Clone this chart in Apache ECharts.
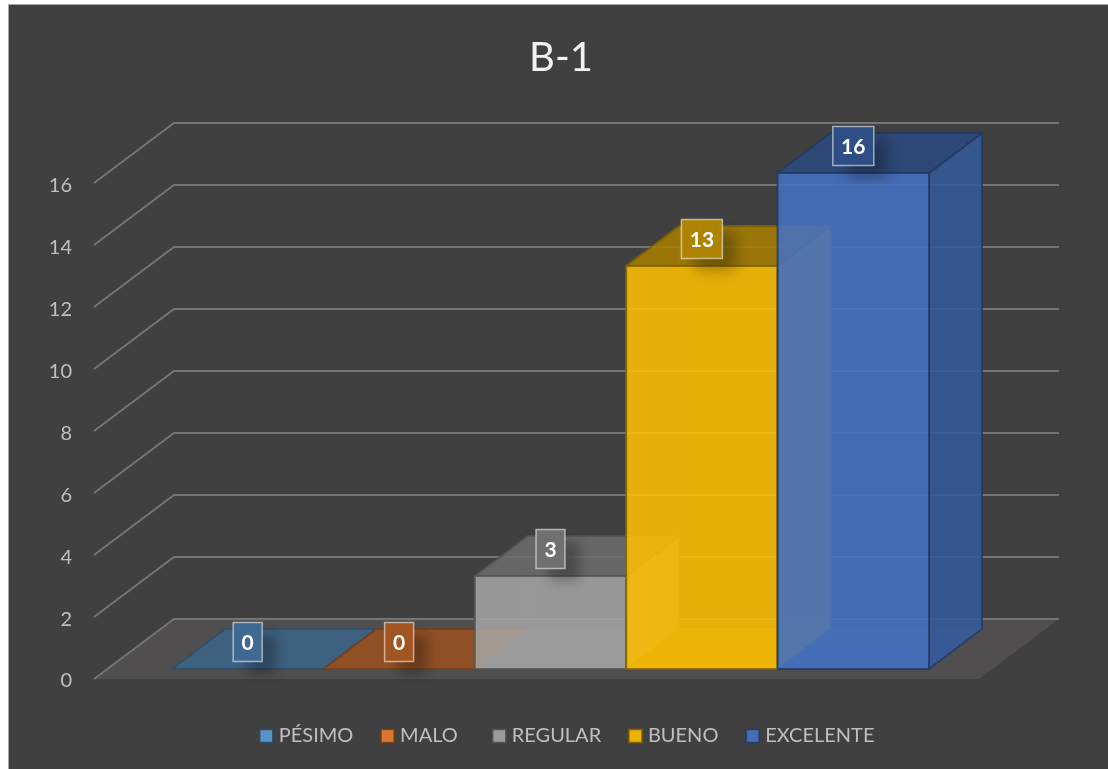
<!DOCTYPE html>
<html>
<head>
<meta charset="utf-8">
<style>html,body{margin:0;padding:0;background:#fff}#c{width:1108px;height:769px}</style>
<script src="https://cdn.jsdelivr.net/npm/echarts@6/dist/echarts.min.js"></script>
</head>
<body>
<div id="c"></div>
<script>
const titleText = 'B-1';
const categories = ['PÉSIMO', 'MALO', 'REGULAR', 'BUENO', 'EXCELENTE'];
const values = [0, 0, 3, 13, 16];
const yTicks = [0, 2, 4, 6, 8, 10, 12, 14, 16];
const colors = ['#5B9BD5', '#ED7D31', '#A5A5A5', '#FFC000', '#4472C4'];

const FONT = 'Lato';
const WALL = [80, -60];
const DEPTH = [53, -40];

function rgba(hex, shade, a) {
  const n = parseInt(hex.slice(1), 16);
  const r = Math.round((n >> 16 & 255) * shade), g = Math.round((n >> 8 & 255) * shade), b = Math.round((n & 255) * shade);
  return 'rgba(' + r + ',' + g + ',' + b + ',' + a + ')';
}
function shift(p, d) { return [p[0] + d[0], p[1] + d[1]]; }
function poly(points, fill, stroke) {
  return { type: 'polygon', shape: { points: points }, style: { fill: fill, stroke: stroke, lineWidth: 2, lineJoin: 'round' } };
}

function renderWall(params, api) {
  const v = api.value(1);
  const a = api.coord([0, v]), b = api.coord([1, v]);
  const c = shift(a, WALL), d = shift(b, WALL);
  const children = [];
  if (v === 0) children.push({ type: 'polygon', shape: { points: [a, c, d, b] }, style: { fill: '#504e4e' } });
  children.push({ type: 'polyline', shape: { points: [a, c, d] }, style: { fill: 'none', stroke: '#757575', lineWidth: 2 } });
  return { type: 'group', children: children };
}

function makeBar(color) {
  return function (params, api) {
    const i = api.value(0), v = api.value(1);
    const w = api.size([1, 0])[0];
    const base = api.coord([i, 0]), top = api.coord([i, v]);
    const l = base[0] - w / 2, r = base[0] + w / 2;
    const fbl = [l, base[1]], fbr = [r, base[1]], ftl = [l, top[1]], ftr = [r, top[1]];
    const bbl = shift(fbl, DEPTH), bbr = shift(fbr, DEPTH), btl = shift(ftl, DEPTH), btr = shift(ftr, DEPTH);
    const edge = rgba(color, 0.5, 0.8), faint = rgba(color, 1, 0.12);
    const children = [];
    if (v > 0) {
      children.push(poly([bbl, bbr, btr, btl], faint, rgba(color, 1, 0.06)));
      children.push(poly([fbl, fbr, bbr, bbl], rgba(color, 1, 0.3), rgba(color, 1, 0.06)));
      children.push(poly([fbl, bbl, btl, ftl], rgba(color, 1, 0.1), rgba(color, 1, 0.06)));
      children.push(poly([fbr, bbr, btr, ftr], rgba(color, 0.78, 0.85), edge));
    }
    children.push(poly([ftl, ftr, btr, btl], rgba(color, 0.65, 0.85), edge));
    if (v > 0) children.push(poly([fbl, fbr, ftr, ftl], rgba(color, 1, 0.85), edge));

    const text = String(v);
    const bw = text.length > 1 ? 41 : 29, bh = 39;
    const bx = (l + r) / 2 - bw / 2, by = top[1] - 27 - bh / 2;
    children.push({ type: 'rect', shape: { x: bx, y: by, width: bw, height: bh },
      style: { fill: rgba(color, 0.68, 1), shadowBlur: 12, shadowOffsetX: 14, shadowOffsetY: 12, shadowColor: 'rgba(0,0,0,0.27)' } });
    children.push({ type: 'rect', shape: { x: bx, y: by, width: bw, height: bh },
      style: { fill: 'none', stroke: 'rgba(255,255,255,0.55)', lineWidth: 1.5 } });
    children.push({ type: 'text', x: (l + r) / 2, y: by + bh / 2 + 1,
      style: { text: text, fill: '#ffffff', font: 'bold 21px ' + FONT, align: 'center', verticalAlign: 'middle' } });
    return { type: 'group', children: children };
  };
}

const barSeries = categories.map(function (name, i) {
  return {
    name: name, type: 'custom', xAxisIndex: 1, yAxisIndex: 1, clip: false, z: 3,
    itemStyle: { color: colors[i] },
    data: [[i, values[i]]],
    renderItem: makeBar(colors[i])
  };
});

function legendData(from, to) {
  return categories.slice(from, to).map(function (name, k) {
    const c = colors[from + k];
    return { name: name, itemStyle: { color: rgba(c, 1, 0.9), borderColor: rgba(c, 0.5, 0.9), borderWidth: 1.5 } };
  });
}
const legendBase = { top: 726, padding: 0, itemWidth: 13, itemHeight: 13, itemGap: 27, icon: 'rect',
  textStyle: { color: '#bfbfbf', fontSize: 20, fontFamily: FONT, padding: [0, 0, 0, 1] } };

const chart = echarts.init(document.getElementById('c'), null, { renderer: 'canvas' });
chart.setOption({
  animation: false,
  backgroundColor: '#ffffff',
  textStyle: { fontFamily: FONT },
  graphic: [{ type: 'rect', z: -1, silent: true, shape: { x: 8.5, y: 4.5, width: 1120, height: 800 },
    style: { fill: '#404040', stroke: '#a6a6a6', lineWidth: 1 } }],
  title: { text: titleText, left: 556, top: 33, textAlign: 'center',
    textStyle: { color: '#f2f2f2', fontSize: 40, fontWeight: 'normal', fontFamily: FONT } },
  legend: [
    Object.assign({}, legendBase, { left: 259, data: legendData(0, 2) }),
    Object.assign({}, legendBase, { left: 492, data: legendData(2, 5) })
  ],
  grid: [
    { left: 94, width: 885, top: 183, height: 496 },
    { left: 172, width: 757, top: 173, height: 496 },
    { left: 94, width: 885, top: 186, height: 495 }
  ],
  xAxis: [
    { type: 'value', gridIndex: 0, min: 0, max: 1, show: false },
    { type: 'category', gridIndex: 1, data: categories, show: false },
    { type: 'value', gridIndex: 2, min: 0, max: 1, show: false }
  ],
  yAxis: [
    { type: 'value', gridIndex: 0, min: 0, max: 16, interval: 2, show: false, splitLine: { show: false } },
    { type: 'value', gridIndex: 1, min: 0, max: 16, interval: 2, show: false, splitLine: { show: false } },
    { type: 'value', gridIndex: 2, min: 0, max: 16, interval: 2,
      axisLine: { show: false }, axisTick: { show: false }, splitLine: { show: false },
      axisLabel: { color: '#bfbfbf', fontSize: 20, fontFamily: FONT, margin: 22 } }
  ],
  series: [{
    type: 'custom', xAxisIndex: 0, yAxisIndex: 0, clip: false, z: 1, silent: true,
    data: yTicks.map(function (v) { return [0, v]; }),
    renderItem: renderWall
  }].concat(barSeries)
});
</script>
</body>
</html>
